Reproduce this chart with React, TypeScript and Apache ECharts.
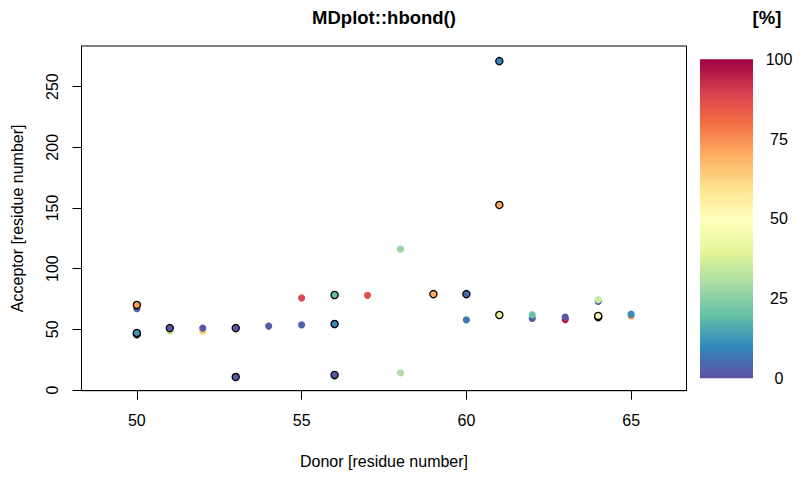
import React, { useEffect, useRef } from "react";
import * as echarts from "echarts";

// [donor, acceptor, percent] — points drawn without a border (drawn first)
const plainDonor = [50, 51, 52, 52, 54, 55, 55, 57, 58, 58, 60, 62, 62, 63, 63, 64, 64, 65, 65, 56];
const plainAcceptor = [67, 48.5, 48.5, 51, 52.7, 53.6, 75.8, 78, 116, 14, 57.7, 59, 62, 58, 60, 73, 74.5, 61, 62.5, 11];
const plainPercent = [2, 35, 65, 1, 2, 3, 88, 86, 27, 31, 7, 2, 20, 96, 1, 2, 35, 75, 11, 25];

// points drawn with a black border (drawn on top)
const ringDonor = [50, 50, 50, 51, 53, 53, 56, 56, 56, 59, 60, 61, 61, 61, 64, 64];
const ringAcceptor = [70, 46, 47, 51, 51, 10.7, 78.3, 54.4, 12.4, 79, 79, 271, 152.5, 61.8, 60, 61];
const ringPercent = [73, 10, 12, 1, 1, 2, 20, 10, 2, 70, 5, 10, 71, 40, 45, 52];

const xTicks = [50, 55, 60, 65];
const yTicks = [0, 50, 100, 150, 200, 250];
const barTicks = [100, 75, 50, 25, 0];

const spectral = [
  "#5E4FA2", "#3288BD", "#66C2A5", "#ABDDA4", "#E6F598", "#FFFFBF",
  "#FEE08B", "#FDAE61", "#F46D43", "#D53E4F", "#9E0142",
];

const FONT = "'Liberation Sans', Arial, Helvetica, sans-serif";

export default function App() {
  const ref = useRef<HTMLDivElement>(null);
  useEffect(() => {
    if (!ref.current) return;
    const chart = echarts.init(ref.current, null, { renderer: "svg" });
    const plain = plainDonor.map((d, i) => [d, plainAcceptor[i], plainPercent[i]]);
    const ring = ringDonor.map((d, i) => [d, ringAcceptor[i], ringPercent[i]]);

    const barTop = 59.3;
    const barH = 319;
    const barX = 700;
    const barW = 53;

    const textStyle = (text: string, size: number, bold: boolean) => ({
      text,
      fontSize: size,
      fontWeight: bold ? "bold" : "normal",
      fontFamily: FONT,
      fill: "#000",
      align: "center",
      verticalAlign: "middle",
    });

    const graphics: any[] = [
      { type: "text", x: 384, y: 17, style: textStyle("MDplot::hbond()", 18.5, true) },
      { type: "text", x: 767, y: 17, style: textStyle("[%]", 18.5, true) },
      {
        type: "rect",
        shape: { x: barX, y: barTop, width: barW, height: barH },
        style: {
          fill: new echarts.graphic.LinearGradient(
            0, 0, 0, 1,
            spectral
              .slice()
              .reverse()
              .map((c, i) => ({ offset: i / (spectral.length - 1), color: c }))
          ),
        },
      },
      ...barTicks.map((v) => ({
        type: "text",
        x: 779,
        y: barTop + ((100 - v) / 100) * barH,
        style: textStyle(String(v), 16, false),
      })),
    ];

    chart.setOption({
      animation: false,
      backgroundColor: "#fff",
      grid: {
        left: 81.5,
        right: 113.5,
        top: 46,
        bottom: 86.3,
        show: true,
        borderColor: "#000",
        borderWidth: 1,
        backgroundColor: "transparent",
      },
      xAxis: {
        type: "value",
        min: 48.32,
        max: 66.68,
        splitLine: { show: false },
        axisLine: { show: true, onZero: false, lineStyle: { color: "#000", width: 1 } },
        axisTick: {
          show: true,
          inside: false,
          length: 9,
          lineStyle: { color: "#000" },
          customValues: xTicks,
        },
        axisLabel: {
          show: true,
          margin: 22,
          fontSize: 16,
          fontFamily: FONT,
          color: "#000",
          customValues: xTicks,
        },
        name: "Donor [residue number]",
        nameLocation: "middle",
        nameGap: 63,
        nameTextStyle: { fontSize: 16, fontFamily: FONT, color: "#000" },
      },
      yAxis: {
        type: "value",
        min: -0.6,
        max: 283.5,
        splitLine: { show: false },
        axisLine: { show: true, onZero: false, lineStyle: { color: "#000", width: 1 } },
        axisTick: {
          show: true,
          inside: false,
          length: 9,
          lineStyle: { color: "#000" },
          customValues: yTicks,
        },
        axisLabel: {
          show: true,
          rotate: 90,
          margin: 21,
          fontSize: 16,
          fontFamily: FONT,
          color: "#000",
          customValues: yTicks,
        },
        name: "Acceptor [residue number]",
        nameLocation: "middle",
        nameGap: 56,
        nameTextStyle: { fontSize: 16, fontFamily: FONT, color: "#000" },
      },
      visualMap: {
        show: false,
        type: "continuous",
        min: 0,
        max: 100,
        dimension: 2,
        seriesIndex: [0, 1],
        inRange: { color: spectral },
      },
      series: [
        {
          type: "scatter",
          data: plain,
          symbol: "circle",
          symbolSize: 7.2,
          itemStyle: { opacity: 1 },
        },
        {
          type: "scatter",
          data: ring,
          symbol: "circle",
          symbolSize: 7.2,
          itemStyle: { opacity: 1, borderColor: "#000", borderWidth: 1.3 },
        },
      ],
      graphic: graphics,
    });
    return () => chart.dispose();
  }, []);
  return (
    <div
      ref={ref}
      style={{ position: "absolute", left: 0, top: 0, width: 800, height: 477 }}
    />
  );
}
